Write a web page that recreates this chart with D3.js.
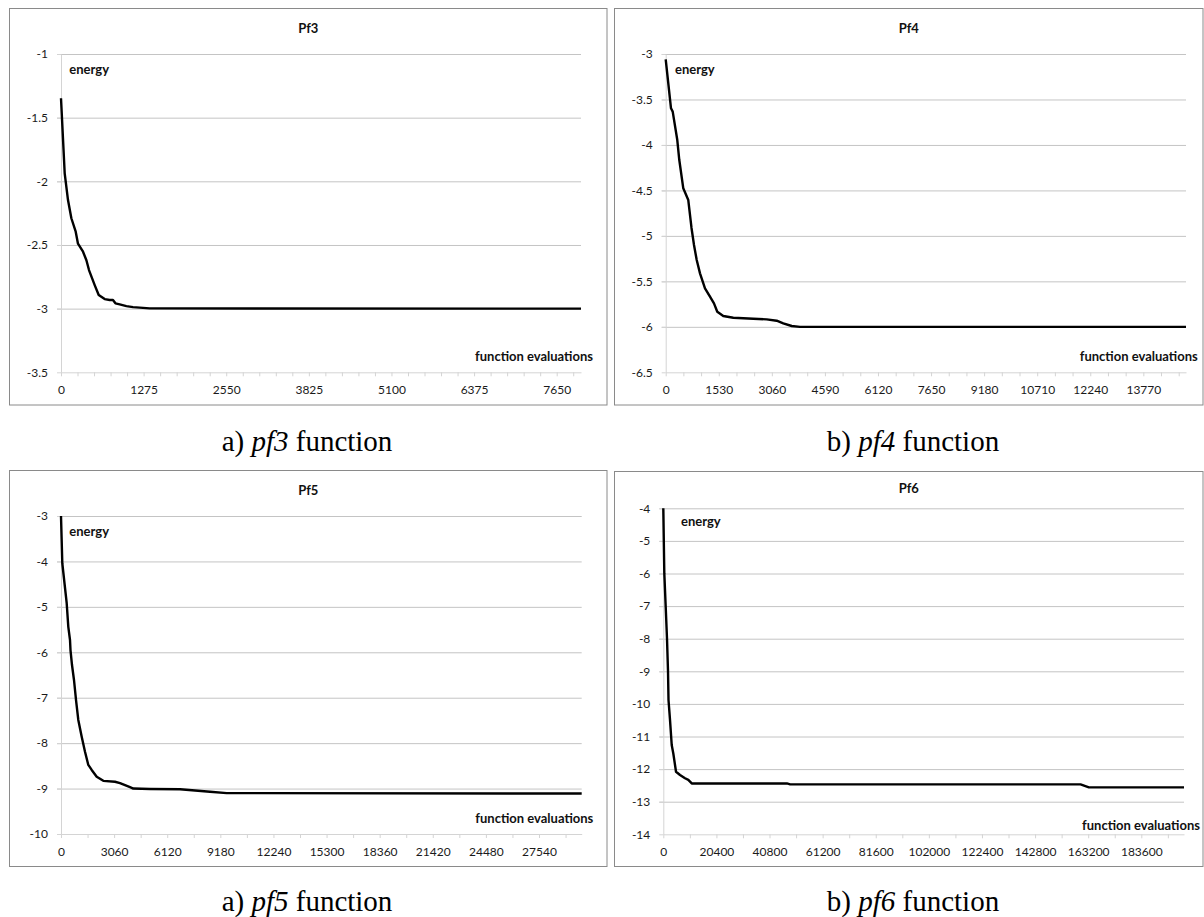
<!DOCTYPE html>
<html>
<head>
<meta charset="utf-8">
<script src="https://cdn.jsdelivr.net/npm/d3@7"></script>
<style>
  body { margin: 0; background: #fff; }
  svg { display: block; }
  .tick text { font-family: Lato, "Open Sans", sans-serif; font-size: 12px; fill: #1a1a1a; }
  .lbl { font-family: Lato, "Open Sans", sans-serif; font-size: 13px; font-weight: bold; fill: #111; }
  .caption { font-family: "Liberation Serif", "Times New Roman", serif; font-size: 29px; fill: #000; }
</style>
</head>
<body>
<div id="chart"></div>
<script>
// --- Pf3 ---
const pf3Evals  = [0, 57, 108, 160, 227, 262, 340, 392, 432, 520, 582, 674, 752, 802, 840, 906, 1009, 1111, 1369, 8025];
const pf3Energy = [-1.348, -1.937, -2.147, -2.29, -2.396, -2.49, -2.553, -2.62, -2.697, -2.815, -2.893, -2.925, -2.932, -2.932, -2.958, -2.966, -2.98, -2.988, -2.998, -3.0];
const pf3YTicks = [-1, -1.5, -2, -2.5, -3, -3.5];
const pf3XLabels = [0, 1275, 2550, 3825, 5100, 6375, 7650];

// --- Pf4 ---
const pf4Evals  = [0, 153, 202, 334, 392, 507, 651, 744, 816, 894, 989, 1133, 1277, 1392, 1487, 1660, 1949, 2525, 2912, 3200, 3390, 3632, 3872, 15000];
const pf4Energy = [-3.058, -3.597, -3.634, -3.946, -4.166, -4.477, -4.606, -4.913, -5.10, -5.266, -5.412, -5.577, -5.669, -5.742, -5.834, -5.881, -5.9, -5.911, -5.918, -5.933, -5.962, -5.991, -6.0, -6.0];
const pf4YTicks = [-3, -3.5, -4, -4.5, -5, -5.5, -6, -6.5];
const pf4XLabels = [0, 1530, 3060, 4590, 6120, 7650, 9180, 10710, 12240, 13770];

// --- Pf5 ---
const pf5Evals  = [0, 75, 328, 421, 519, 547, 634, 749, 836, 864, 997, 1193, 1383, 1573, 1769, 2057, 2438, 3112, 3400, 3976, 4166, 5129, 6858, 8586, 9549, 30000];
const pf5Energy = [-3.0, -4.04, -4.92, -5.44, -5.73, -5.95, -6.28, -6.61, -6.94, -7.05, -7.49, -7.86, -8.19, -8.48, -8.59, -8.74, -8.83, -8.85, -8.88, -8.97, -9.0, -9.01, -9.015, -9.07, -9.10, -9.11];
const pf5YTicks = [-3, -4, -5, -6, -7, -8, -9, -10];
const pf5XLabels = [0, 3060, 6120, 9180, 12240, 15300, 18360, 21420, 24480, 27540];

// --- Pf6 ---
const pf6Evals  = [0, 385, 923, 1423, 1808, 2000, 2577, 3231, 3846, 4885, 6423, 8346, 9615, 10923, 14115, 47462, 48731, 160269, 163462, 200000];
const pf6Energy = [-4.0, -5.99, -7.02, -8.0, -9.0, -9.88, -10.49, -11.26, -11.52, -12.08, -12.18, -12.28, -12.33, -12.44, -12.44, -12.44, -12.47, -12.47, -12.56, -12.56];
const pf6YTicks = [-4, -5, -6, -7, -8, -9, -10, -11, -12, -13, -14];
const pf6XLabels = [0, 20400, 40800, 61200, 81600, 102000, 122400, 142800, 163200, 183600];

const panels = [
    { title: "Pf3", tag: "a) ", name: "pf3", evals: pf3Evals, energy: pf3Energy, yTicks: pf3YTicks, xLabels: pf3XLabels,
      xMax: 8025, minorStep: 255,
      frame: [9.5, 8.5, 597.5, 396.5], plot: [61, 54, 581, 372.3], titleY: 33,
      evalLabel: [593, 360.7], energyLabel: [69.3, 74], captionPos: [307, 451] },
    { title: "Pf4", tag: "b) ", name: "pf4", evals: pf4Evals, energy: pf4Energy, yTicks: pf4YTicks, xLabels: pf4XLabels,
      xMax: 15000, minorStep: 510,
      frame: [614.5, 8.5, 588.5, 396.5], plot: [665.7, 54, 1186, 372.3], titleY: 33,
      evalLabel: [1197.7, 360.7], energyLabel: [675, 74], captionPos: [913, 451] },
    { title: "Pf5", tag: "a) ", name: "pf5", evals: pf5Evals, energy: pf5Energy, yTicks: pf5YTicks, xLabels: pf5XLabels,
      xMax: 30000, minorStep: 1530,
      frame: [9.5, 470.5, 597.5, 396], plot: [61, 516, 581.7, 834], titleY: 495,
      evalLabel: [593.3, 822.7], energyLabel: [69.3, 536], captionPos: [307, 911] },
    { title: "Pf6", tag: "b) ", name: "pf6", evals: pf6Evals, energy: pf6Energy, yTicks: pf6YTicks, xLabels: pf6XLabels,
      xMax: 200000, minorStep: 10200,
      frame: [614.5, 471.5, 588.5, 395], plot: [663.3, 508.3, 1184, 834.3], titleY: 493,
      evalLabel: [1200, 830], energyLabel: [681, 526], captionPos: [913, 911] }
];

const gridColor = "#c4c4c4";
const axisColor = "#d4d4d4";

const svg = d3.select("#chart")
    .append("svg")
        .attr("width", 1204)
        .attr("height", 917);

const drawPanel = function (p) {
    const [left, top, right, bottom] = p.plot;
    const g = svg.append("g").attr("class", "panel-" + p.name);

    g.append("rect")
        .attr("x", p.frame[0])
        .attr("y", p.frame[1])
        .attr("width", p.frame[2])
        .attr("height", p.frame[3])
        .attr("fill", "#fff")
        .attr("stroke", "#8a8a8a")
        .attr("stroke-width", 1);

    const x = d3.scaleLinear().domain([0, p.xMax]).range([left, right]);
    const yMin = d3.min(p.yTicks), yMax = d3.max(p.yTicks);
    const y = d3.scaleLinear().domain([yMin, yMax]).range([bottom, top]);

    // horizontal gridlines (skip the bottom one, the x axis sits there)
    g.append("g")
        .attr("transform", `translate(${right},0)`)
        .call(d3.axisLeft(y).tickValues(p.yTicks.filter(v => v !== yMin)).tickSize(right - left + 4).tickFormat(""))
        .call(a => a.select(".domain").remove())
        .call(a => a.selectAll("line").attr("stroke", gridColor));

    // y axis
    g.append("g")
        .attr("transform", `translate(${left},0)`)
        .call(d3.axisLeft(y).tickValues(p.yTicks).tickSize(4).tickSizeOuter(0).tickPadding(9)
            .tickFormat(d => String(d)))
        .call(a => a.select(".domain").attr("stroke", axisColor))
        .call(a => a.selectAll("line").attr("stroke", axisColor));

    // x axis: minor tick marks, labels on the major ones
    const major = new Set(p.xLabels);
    const minor = d3.range(0, p.xMax, p.minorStep);
    g.append("g")
        .attr("transform", `translate(0,${bottom})`)
        .call(d3.axisBottom(x).tickValues(minor).tickSize(4).tickSizeOuter(0).tickPadding(9.5)
            .tickFormat(d => major.has(d) ? String(d) : ""))
        .call(a => a.select(".domain").attr("stroke", axisColor))
        .call(a => a.selectAll("line").attr("stroke", axisColor));

    const line = d3.line()
        .x(d => x(d[0]))
        .y(d => y(d[1]));

    g.append("path")
        .datum(p.evals.map((e, i) => [e, p.energy[i]]))
        .attr("d", line)
        .attr("fill", "none")
        .attr("stroke", "#000")
        .attr("stroke-width", 2.4)
        .attr("stroke-linejoin", "round");

    g.append("text")
        .attr("class", "lbl")
        .attr("x", p.frame[0] + p.frame[2] / 2)
        .attr("y", p.titleY)
        .attr("text-anchor", "middle")
        .text(p.title);

    g.append("text")
        .attr("class", "lbl")
        .attr("x", p.energyLabel[0])
        .attr("y", p.energyLabel[1])
        .text("energy");

    g.append("text")
        .attr("class", "lbl")
        .attr("x", p.evalLabel[0])
        .attr("y", p.evalLabel[1])
        .attr("text-anchor", "end")
        .text("function evaluations");

    const cap = svg.append("text")
        .attr("class", "caption")
        .attr("x", p.captionPos[0])
        .attr("y", p.captionPos[1])
        .attr("text-anchor", "middle");
    cap.append("tspan").text(p.tag);
    cap.append("tspan").attr("font-style", "italic").text(p.name);
    cap.append("tspan").text(" function");
};

panels.forEach(drawPanel);
</script>
</body>
</html>
